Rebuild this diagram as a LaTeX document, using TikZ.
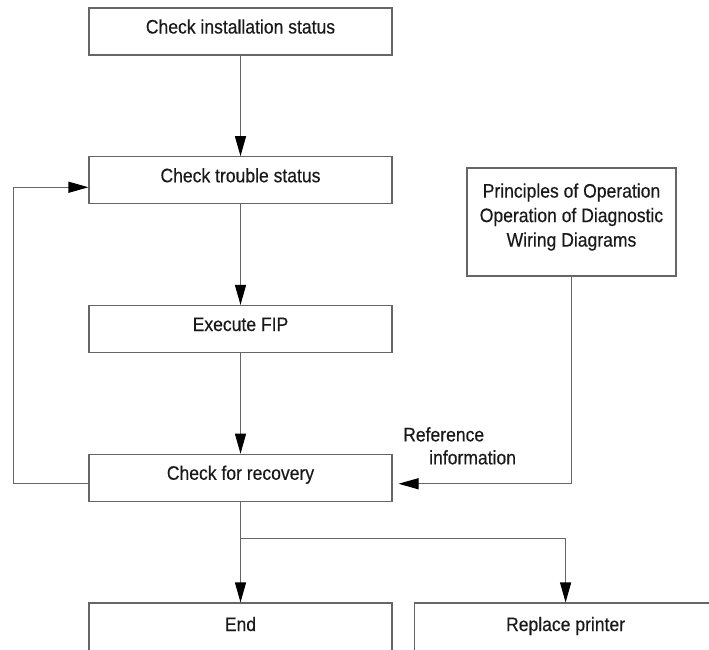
\documentclass[tikz,border=0pt]{standalone}
\usepackage{fontspec}
\setmainfont{Liberation Sans}[FakeStretch=0.9,FakeBold=0.4]
\usetikzlibrary{arrows.meta,positioning,calc}

\begin{document}
\begin{tikzpicture}[node distance=148.75pt,
  box/.style={rectangle, draw=black!60, line width=1.1pt, text=black!90,
    minimum width=303pt, minimum height=47pt, inner sep=0pt,
    font=\fontsize{19.5}{24.5}\selectfont},
  flow/.style={box, text height=14pt, text depth=10pt},
  link/.style={draw=black!60, line width=1.1pt},
  >={Triangle[length=20pt,width=11pt,color=black]}]
\useasboundingbox (0pt,0pt) rectangle (709pt,-649pt);
\clip (0pt,0pt) rectangle (709pt,-649pt);
\node[flow] (inst) at (240.5pt,-31.5pt) {Check installation status};
\node[flow, below of=inst] (trbl) {Check trouble status};
\node[flow, below of=trbl] (fip) {Execute FIP};
\node[flow, below of=fip] (recov) {Check for recovery};
\node[flow, below of=recov, minimum height=52pt, yshift=-2.5pt] (end) {End};
\node[flow, minimum height=52pt, right=21pt of end] (repl) {Replace printer};
\node[box, minimum width=209pt, minimum height=108pt, align=center] (princ) at (571.5pt,-222pt)
  {Principles of Operation\\Operation of Diagnostic\\Wiring Diagrams\rule[-14pt]{0pt}{14pt}};
\node[align=left, anchor=north west, inner sep=0pt, text=black!90,
  font=\fontsize{19.5}{23}\selectfont] (refinfo) at (403pt,-427pt)
  {Reference\\\hspace{26pt}information};
\coordinate (fork) at ([yshift=-37pt]recov.south);
\path[->, link] (inst) edge (trbl)
          (trbl) edge (fip)
          (fip) edge (recov)
          (recov) edge (end);
\draw[->, link] ([yshift=-6pt]recov.west) -- ++(-75pt,0) |- ([yshift=-7pt]trbl.west);
\draw[->, link, shorten >=6pt] (princ.south) |- ([yshift=-6pt]recov.east);
\draw[->, link] (fork) -| (repl.north);
\end{tikzpicture}
\end{document}
